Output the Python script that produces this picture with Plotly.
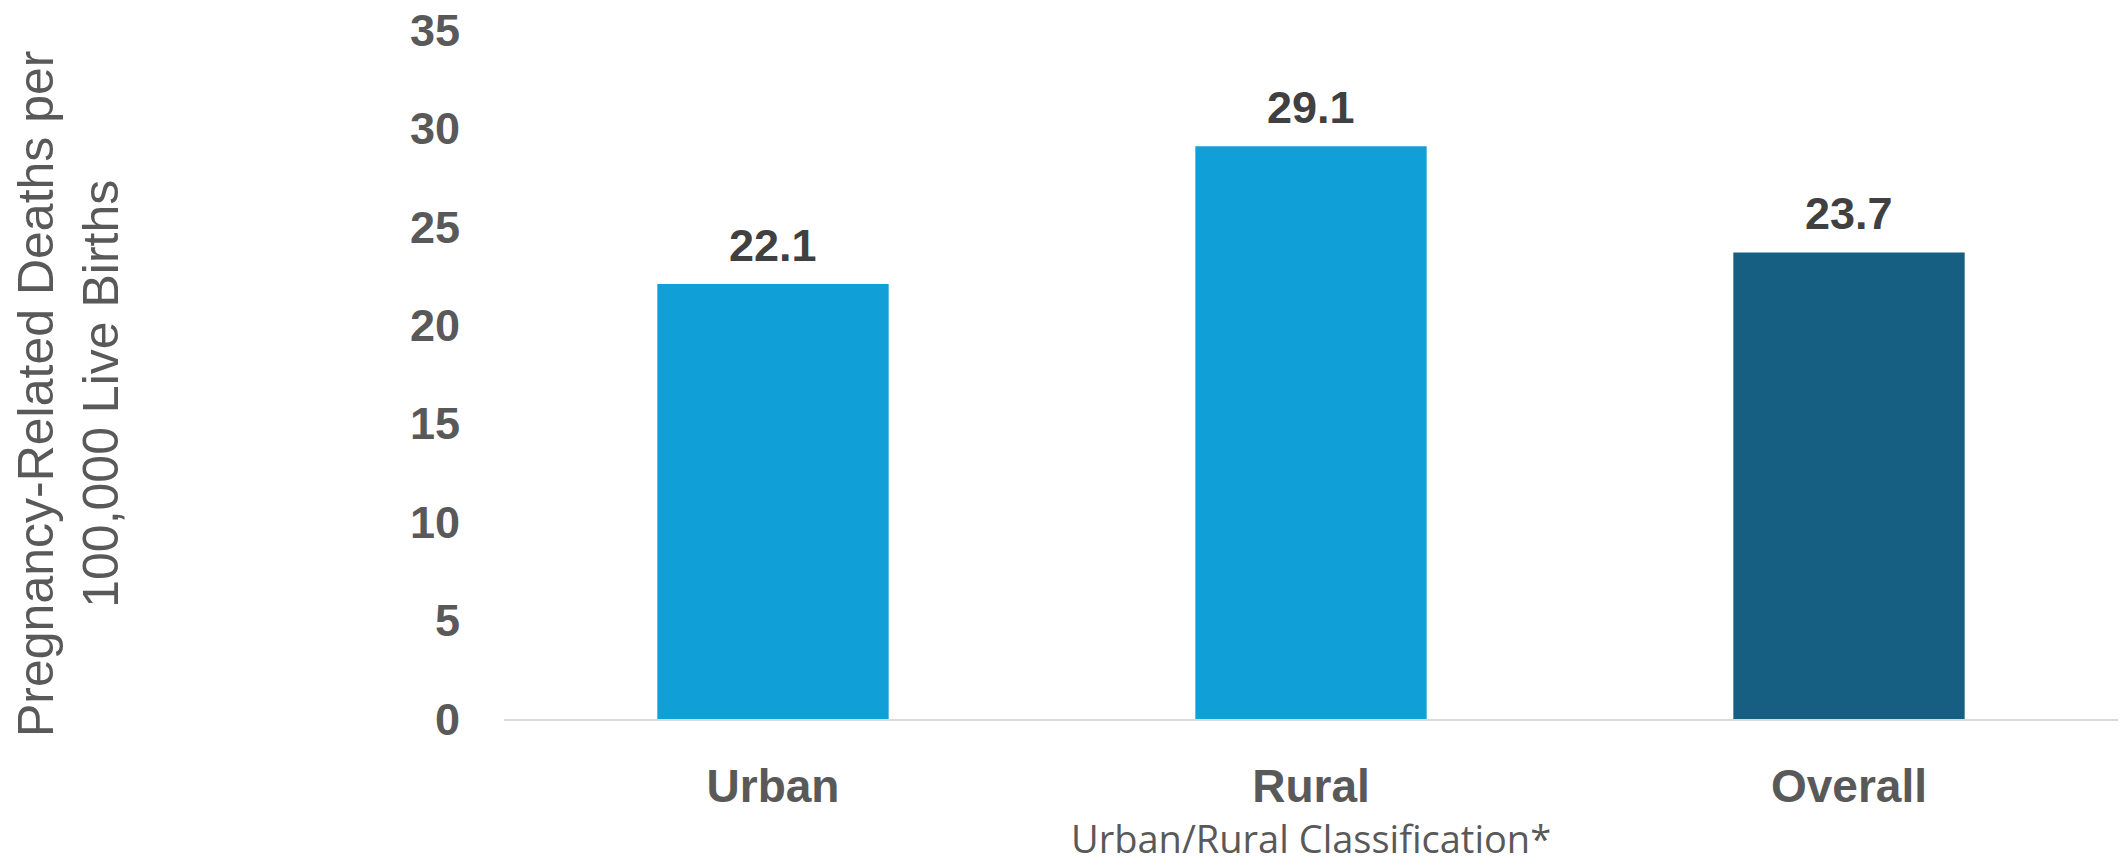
import plotly.graph_objects as go

categories = ["Urban", "Rural", "Overall"]
values = [22.1, 29.1, 23.7]
bar_colors = ["#109FD6", "#109FD6", "#175F82"]
value_labels = ["22.1", "29.1", "23.7"]
y_ticks = [0, 5, 10, 15, 20, 25, 30, 35]

W, H = 2121, 865
L, R, T, B = 504, 3, 30, 146

fig = go.Figure()
fig.add_trace(go.Bar(
    x=categories, y=values,
    marker=dict(color=bar_colors, line=dict(width=0)),
    width=0.43,
    hoverinfo="skip",
))

for c, v, t in zip(categories, values, value_labels):
    fig.add_annotation(
        x=c, y=v, xref="x", yref="y", text=t, showarrow=False,
        yanchor="bottom", yshift=11,
        font=dict(family="Liberation Sans, Arial", size=45, color="#404040", weight="bold"),
    )

plot_h = H - T - B
fig.add_annotation(
    xref="paper", yref="paper", x=0, y=(H - B - 394) / plot_h,
    xanchor="center", yanchor="middle", xshift=-(L - 68),
    text="Pregnancy-Related Deaths per<br>100,000 Live Births",
    textangle=-90, showarrow=False,
    font=dict(family="Liberation Sans, Arial", size=50, color="#595959"),
)
fig.add_annotation(
    xref="paper", yref="paper", x=0.5, y=0,
    xanchor="center", yanchor="middle", yshift=-(838 - (H - B)),
    text="Urban/Rural Classification*", showarrow=False,
    font=dict(family="Open Sans, Roboto, Liberation Sans", size=38, color="#595959"),
)

fig.update_layout(
    width=W, height=H,
    margin=dict(l=L, r=R, t=T, b=B, pad=0),
    plot_bgcolor="white", paper_bgcolor="white",
    showlegend=False,
)
fig.update_xaxes(
    showgrid=False, zeroline=False,
    showline=True, linecolor="#D9D9D9", linewidth=2,
    ticks="", ticklabelstandoff=26,
    tickfont=dict(family="Liberation Sans, Arial", size=46, color="#595959", weight="bold"),
    fixedrange=True,
)
fig.update_yaxes(
    range=[0, 35], tickvals=y_ticks, ticktext=[str(v) for v in y_ticks],
    showgrid=False, zeroline=False, showline=False, ticks="",
    ticklabelstandoff=43,
    tickfont=dict(family="Liberation Sans, Arial", size=45, color="#595959", weight="bold"),
    fixedrange=True,
)

fig.write_html("out.html", config={"displayModeBar": False})
